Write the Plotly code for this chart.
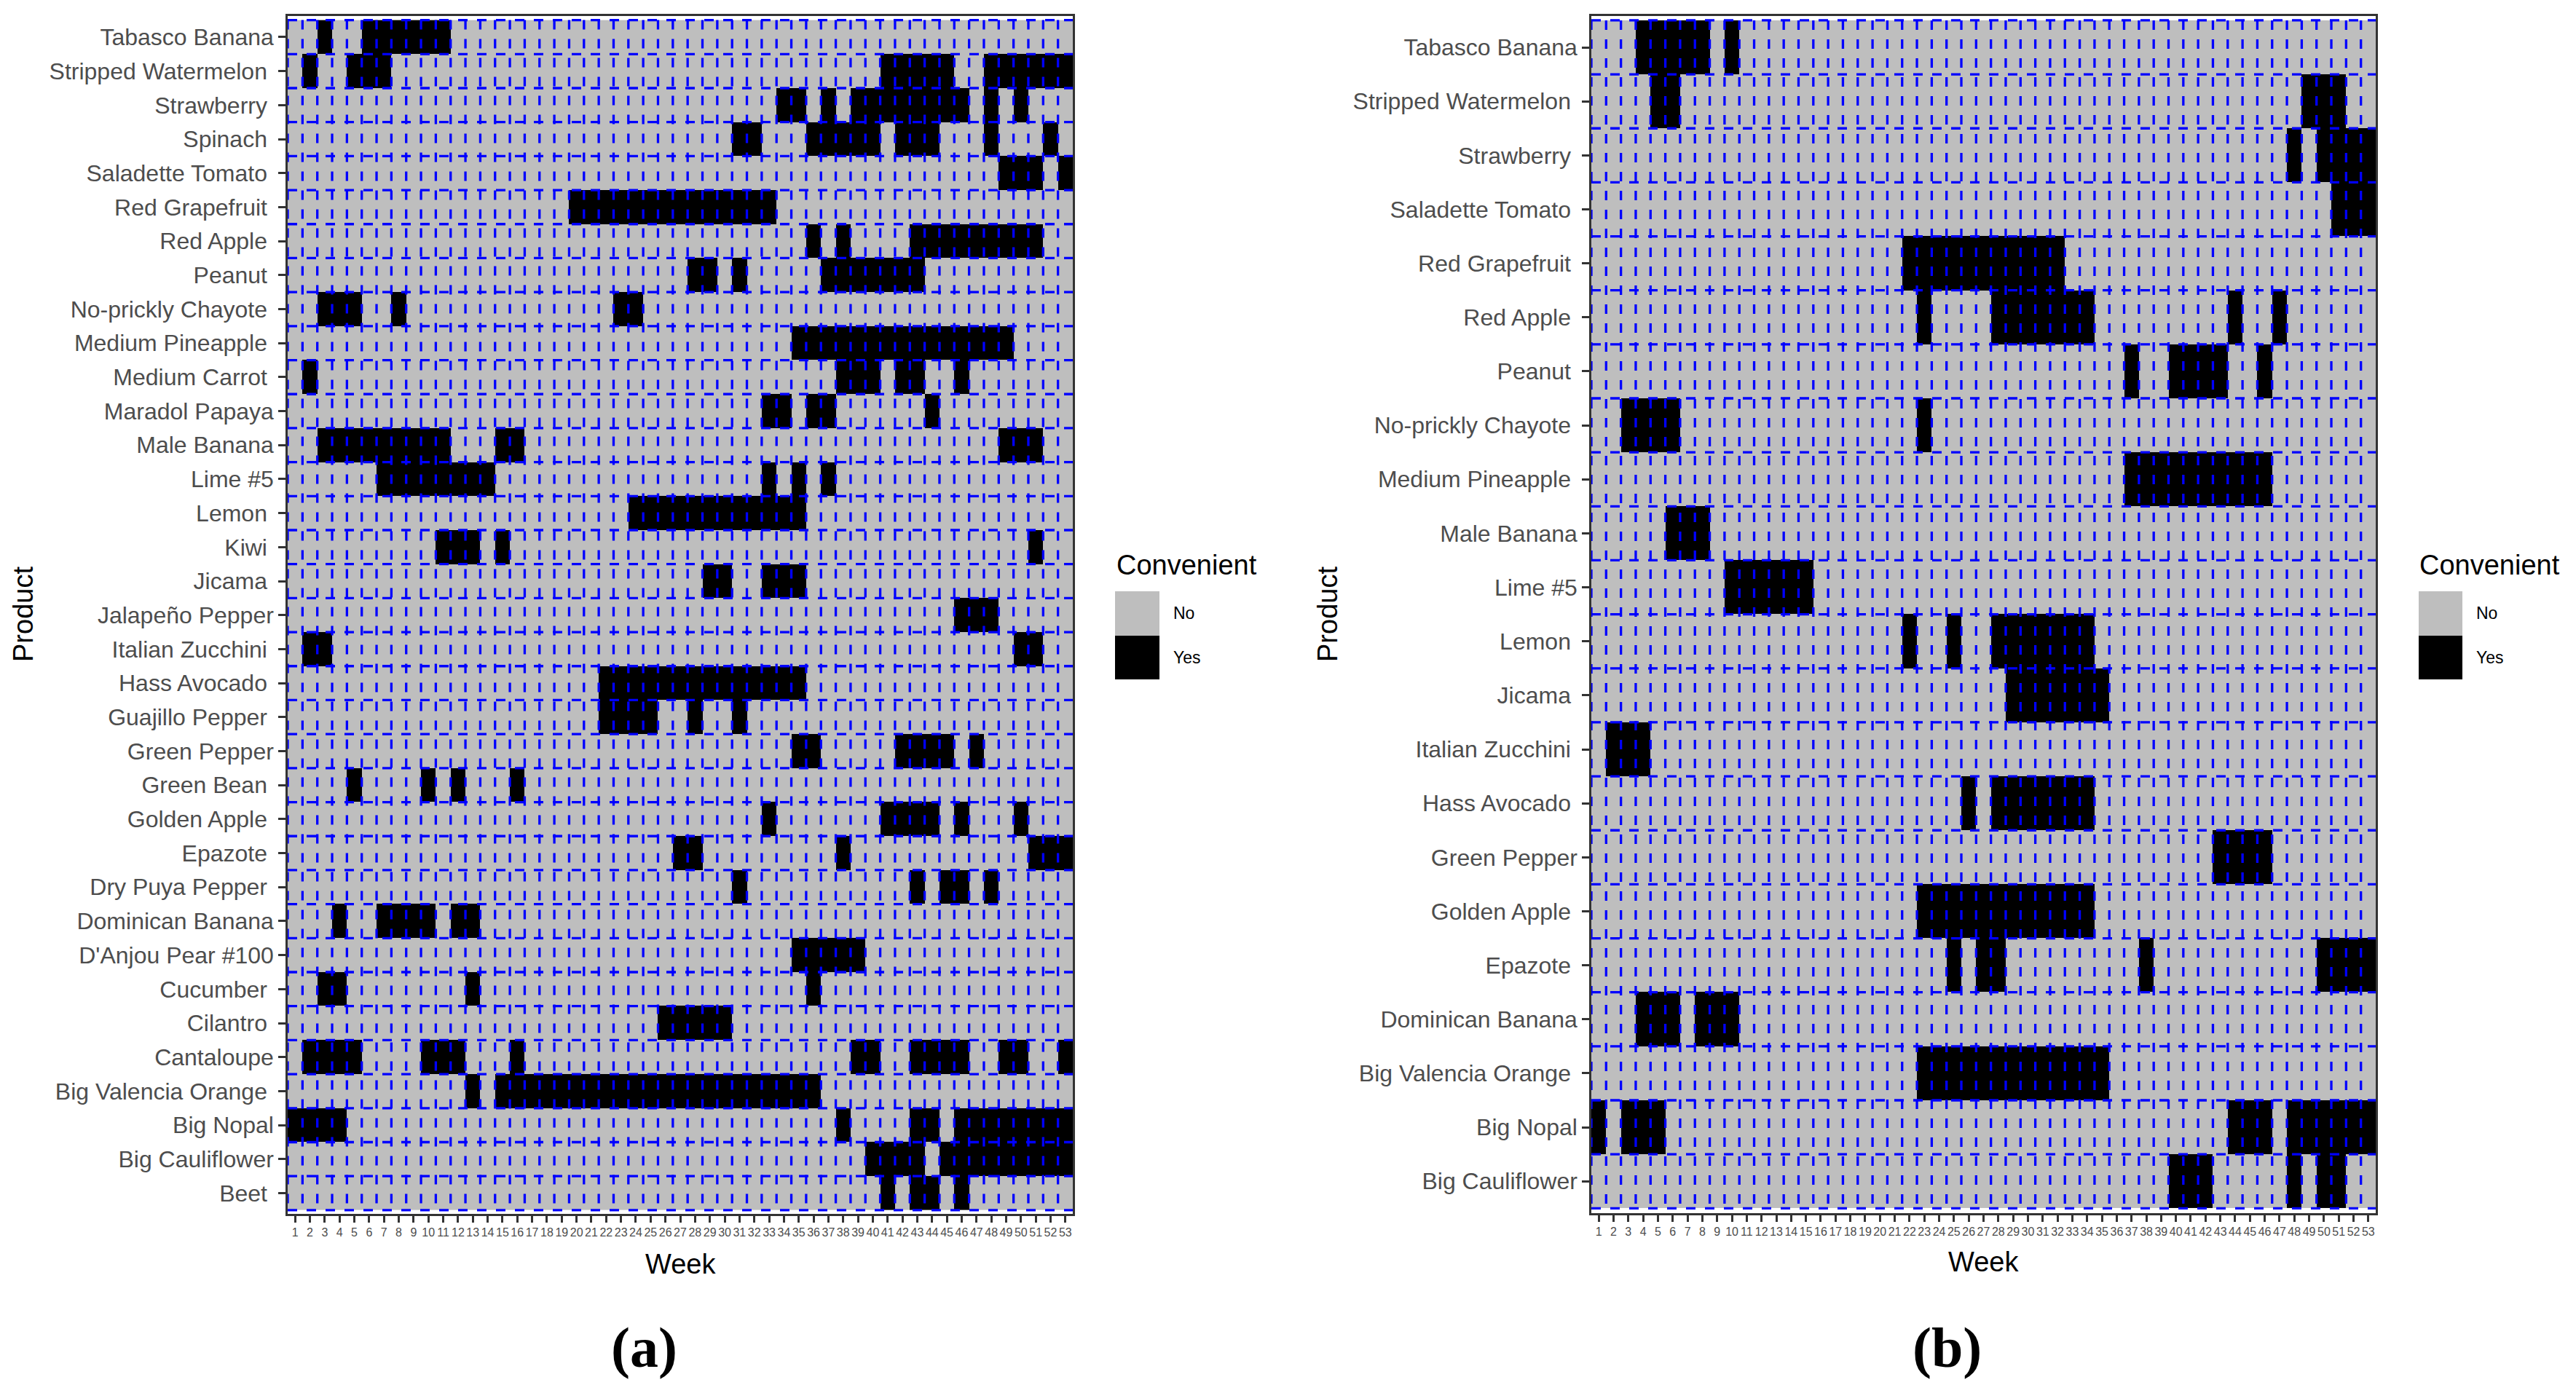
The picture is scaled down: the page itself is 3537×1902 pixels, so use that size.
import plotly.graph_objects as go

# data prep
weeks = list(range(1, 54))
week_labels = [str(w) for w in weeks]

# product names as they come out of the source tables (several keep a trailing blank)
products_a = ["Tabasco Banana", "Stripped Watermelon ", "Strawberry ", "Spinach ",
              "Saladette Tomato ", "Red Grapefruit ", "Red Apple ", "Peanut ",
              "No-prickly Chayote ", "Medium Pineapple ", "Medium Carrot ", "Maradol Papaya",
              "Male Banana", "Lime #5", "Lemon ", "Kiwi ", "Jicama ", "Jalapeño Pepper",
              "Italian Zucchini ", "Hass Avocado ", "Guajillo Pepper ", "Green Pepper",
              "Green Bean ", "Golden Apple ", "Epazote ", "Dry Puya Pepper ",
              "Dominican Banana", "D'Anjou Pear #100", "Cucumber ", "Cilantro ",
              "Cantaloupe", "Big Valencia Orange ", "Big Nopal", "Big Cauliflower", "Beet "]

# weeks marked "Yes" (convenient) for each product, same order as products_a
convenient_a = [
    [3, 6, 7, 8, 9, 10, 11],
    [2, 5, 6, 7, 41, 42, 43, 44, 45, 48, 49, 50, 51, 52, 53],
    [34, 35, 37, 39, 40, 41, 42, 43, 44, 45, 46, 48, 50],
    [31, 32, 36, 37, 38, 39, 40, 42, 43, 44, 48, 52],
    [49, 50, 51, 53],
    [20, 21, 22, 23, 24, 25, 26, 27, 28, 29, 30, 31, 32, 33],
    [36, 38, 43, 44, 45, 46, 47, 48, 49, 50, 51],
    [28, 29, 31, 37, 38, 39, 40, 41, 42, 43],
    [3, 4, 5, 8, 23, 24],
    [35, 36, 37, 38, 39, 40, 41, 42, 43, 44, 45, 46, 47, 48, 49],
    [2, 38, 39, 40, 42, 43, 46],
    [33, 34, 36, 37, 44],
    [3, 4, 5, 6, 7, 8, 9, 10, 11, 15, 16, 49, 50, 51],
    [7, 8, 9, 10, 11, 12, 13, 14, 33, 35, 37],
    [24, 25, 26, 27, 28, 29, 30, 31, 32, 33, 34, 35],
    [11, 12, 13, 15, 51],
    [29, 30, 33, 34, 35],
    [46, 47, 48],
    [2, 3, 50, 51],
    [22, 23, 24, 25, 26, 27, 28, 29, 30, 31, 32, 33, 34, 35],
    [22, 23, 24, 25, 28, 31],
    [35, 36, 42, 43, 44, 45, 47],
    [5, 10, 12, 16],
    [33, 41, 42, 43, 44, 46, 50],
    [27, 28, 38, 51, 52, 53],
    [31, 43, 45, 46, 48],
    [4, 7, 8, 9, 10, 12, 13],
    [35, 36, 37, 38, 39],
    [3, 4, 13, 36],
    [26, 27, 28, 29, 30],
    [2, 3, 4, 5, 10, 11, 12, 16, 39, 40, 43, 44, 45, 46, 49, 50, 53],
    [13, 15, 16, 17, 18, 19, 20, 21, 22, 23, 24, 25, 26, 27, 28, 29, 30, 31, 32, 33, 34, 35, 36],
    [1, 2, 3, 4, 38, 43, 44, 46, 47, 48, 49, 50, 51, 52, 53],
    [40, 41, 42, 43, 45, 46, 47, 48, 49, 50, 51, 52, 53],
    [41, 43, 44, 46],
]

products_b = ["Tabasco Banana", "Stripped Watermelon ", "Strawberry ", "Saladette Tomato ",
              "Red Grapefruit ", "Red Apple ", "Peanut ", "No-prickly Chayote ",
              "Medium Pineapple ", "Male Banana", "Lime #5", "Lemon ", "Jicama ",
              "Italian Zucchini ", "Hass Avocado ", "Green Pepper", "Golden Apple ",
              "Epazote ", "Dominican Banana", "Big Valencia Orange ", "Big Nopal",
              "Big Cauliflower"]

convenient_b = [
    [4, 5, 6, 7, 8, 10],
    [5, 6, 49, 50, 51],
    [48, 50, 51, 52, 53],
    [51, 52, 53],
    [22, 23, 24, 25, 26, 27, 28, 29, 30, 31, 32],
    [23, 28, 29, 30, 31, 32, 33, 34, 44, 47],
    [37, 40, 41, 42, 43, 46],
    [3, 4, 5, 6, 23],
    [37, 38, 39, 40, 41, 42, 43, 44, 45, 46],
    [6, 7, 8],
    [10, 11, 12, 13, 14, 15],
    [22, 25, 28, 29, 30, 31, 32, 33, 34],
    [29, 30, 31, 32, 33, 34, 35],
    [2, 3, 4],
    [26, 28, 29, 30, 31, 32, 33, 34],
    [43, 44, 45, 46],
    [23, 24, 25, 26, 27, 28, 29, 30, 31, 32, 33, 34],
    [25, 27, 28, 38, 50, 51, 52, 53],
    [4, 5, 6, 8, 9, 10],
    [23, 24, 25, 26, 27, 28, 29, 30, 31, 32, 33, 34, 35],
    [1, 3, 4, 5, 44, 45, 46, 48, 49, 50, 51, 52, 53],
    [40, 41, 42, 48, 50, 51],
]

legend_labels = ["No", "Yes"]

GREY = "#BEBEBE"
FONT = "Liberation Sans, Arial, sans-serif"
AXIS_DARK = "#333333"
PAGE_W, PAGE_H = 3537, 1902
BODY = 8  # default page margin around the plot div
W, H = PAGE_W - 2 * BODY, PAGE_H - 2 * BODY


def px_x(p):
    return (p - BODY) / W


def px_y(p):
    return 1 - (p - BODY) / H


def label(p):
    # keep the trailing blank of the raw names visible
    return p[:-1] + "\u00a0" if p.endswith(" ") else p


def panel_traces(products, yes_weeks, xa, ya):
    n = len(products)
    ys = list(range(1, n + 1))
    rows = [[1 if w in wk else 0 for w in weeks] for wk in yes_weeks[::-1]]
    heat = go.Heatmap(x=weeks, y=ys, z=rows, zmin=0, zmax=1,
                      colorscale=[[0, GREY], [1, "black"]], showscale=False,
                      xaxis=xa, yaxis=ya, hoverinfo="skip")
    # dashed blue tile borders
    vx, vy = [], []
    for w in weeks:
        vx += [w - 0.5, w - 0.5, None]
        vy += [n + 0.5, 0.5, None]
    hx, hy = [], []
    for i in range(n + 1):
        hx += [weeks[0] - 0.5, weeks[-1] + 0.5, None]
        hy += [i + 0.5, i + 0.5, None]
    line = dict(color="#0000FF", width=3.3, dash="13px,13px")
    vlines = go.Scatter(x=vx, y=vy, mode="lines", line=line, xaxis=xa, yaxis=ya,
                        hoverinfo="skip", showlegend=False)
    hlines = go.Scatter(x=hx, y=hy, mode="lines", line=line, xaxis=xa, yaxis=ya,
                        hoverinfo="skip", showlegend=False)
    return [heat, vlines, hlines]


def legend_trace(xa, ya):
    return go.Heatmap(x=[0], y=[0, 1], z=[[0], [1]], zmin=0, zmax=1,
                      colorscale=[[0, GREY], [1, "black"]], showscale=False,
                      xaxis=xa, yaxis=ya, hoverinfo="skip")


fig = go.Figure()
for t in panel_traces(products_a, convenient_a, "x", "y"):
    fig.add_trace(t)
for t in panel_traces(products_b, convenient_b, "x2", "y2"):
    fig.add_trace(t)
fig.add_trace(legend_trace("x3", "y3"))
fig.add_trace(legend_trace("x4", "y4"))

xcommon = dict(range=[0.5, 53.5], tickvals=weeks, ticktext=week_labels,
               ticks="outside", ticklen=9, tickwidth=2.5, tickcolor=AXIS_DARK,
               showline=True, mirror=True, linecolor=AXIS_DARK, linewidth=2.5,
               showgrid=False, zeroline=False,
               tickfont=dict(family=FONT, size=16, color="#4D4D4D"))
ycommon = dict(ticks="outside", ticklen=10, tickwidth=2.5, tickcolor=AXIS_DARK,
               showline=True, mirror=True, linecolor=AXIS_DARK, linewidth=2.5,
               showgrid=False, zeroline=False,
               tickfont=dict(family=FONT, size=32, color="#4D4D4D"))
legx = dict(range=[-0.5, 0.5], showticklabels=False, ticks="", showline=False,
            showgrid=False, zeroline=False)
legy = dict(range=[1.5, -0.5], tickvals=[0, 1], ticktext=legend_labels, side="right",
            ticks="", showline=False, showgrid=False, zeroline=False,
            ticklabelstandoff=18, tickfont=dict(family=FONT, size=23, color="black"))

fig.update_layout(
    width=W, height=H,
    margin=dict(l=0, r=0, t=0, b=0),
    paper_bgcolor="white", plot_bgcolor="white",
    showlegend=False,
    xaxis=dict(domain=[px_x(395), px_x(1473)], anchor="y", **xcommon),
    yaxis=dict(domain=[px_y(1667), px_y(22)], anchor="x", range=[0.39, 35.62],
               tickvals=list(range(1, len(products_a) + 1)),
               ticktext=[label(p) for p in products_a[::-1]], **ycommon),
    xaxis2=dict(domain=[px_x(2185), px_x(3262)], anchor="y2", **xcommon),
    yaxis2=dict(domain=[px_y(1666), px_y(22)], anchor="x2", range=[0.41, 22.58],
                tickvals=list(range(1, len(products_b) + 1)),
                ticktext=[label(p) for p in products_b[::-1]], **ycommon),
    xaxis3=dict(domain=[px_x(1531), px_x(1592)], anchor="y3", **legx),
    yaxis3=dict(domain=[px_y(933), px_y(812)], anchor="x3", **legy),
    xaxis4=dict(domain=[px_x(3321), px_x(3381)], anchor="y4", **legx),
    yaxis4=dict(domain=[px_y(933), px_y(812)], anchor="x4", **legy),
)

title_font = dict(family=FONT, size=38, color="black")
notes = [
    dict(text="Product", x=px_x(32), y=px_y(844), textangle=-90),
    dict(text="Product", x=px_x(1823), y=px_y(844), textangle=-90),
    dict(text="Week", x=px_x(934), y=px_y(1736)),
    dict(text="Week", x=px_x(2723), y=px_y(1733)),
]
for a in notes:
    fig.add_annotation(xref="paper", yref="paper", showarrow=False,
                       xanchor="center", yanchor="middle", font=title_font, **a)

for x0 in [1531, 3320]:
    fig.add_annotation(text="Convenient", xref="paper", yref="paper", showarrow=False,
                       x=px_x(x0), y=px_y(776), xanchor="left", yanchor="middle",
                       font=title_font)

for txt, xc in [("(a)", 884), ("(b)", 2673)]:
    fig.add_annotation(text="<b>" + txt + "</b>", xref="paper", yref="paper",
                       showarrow=False, x=px_x(xc), y=px_y(1850),
                       xanchor="center", yanchor="middle",
                       font=dict(family="Liberation Serif, Times New Roman, serif",
                                 size=78, color="black"))

fig.write_html("out.html")
